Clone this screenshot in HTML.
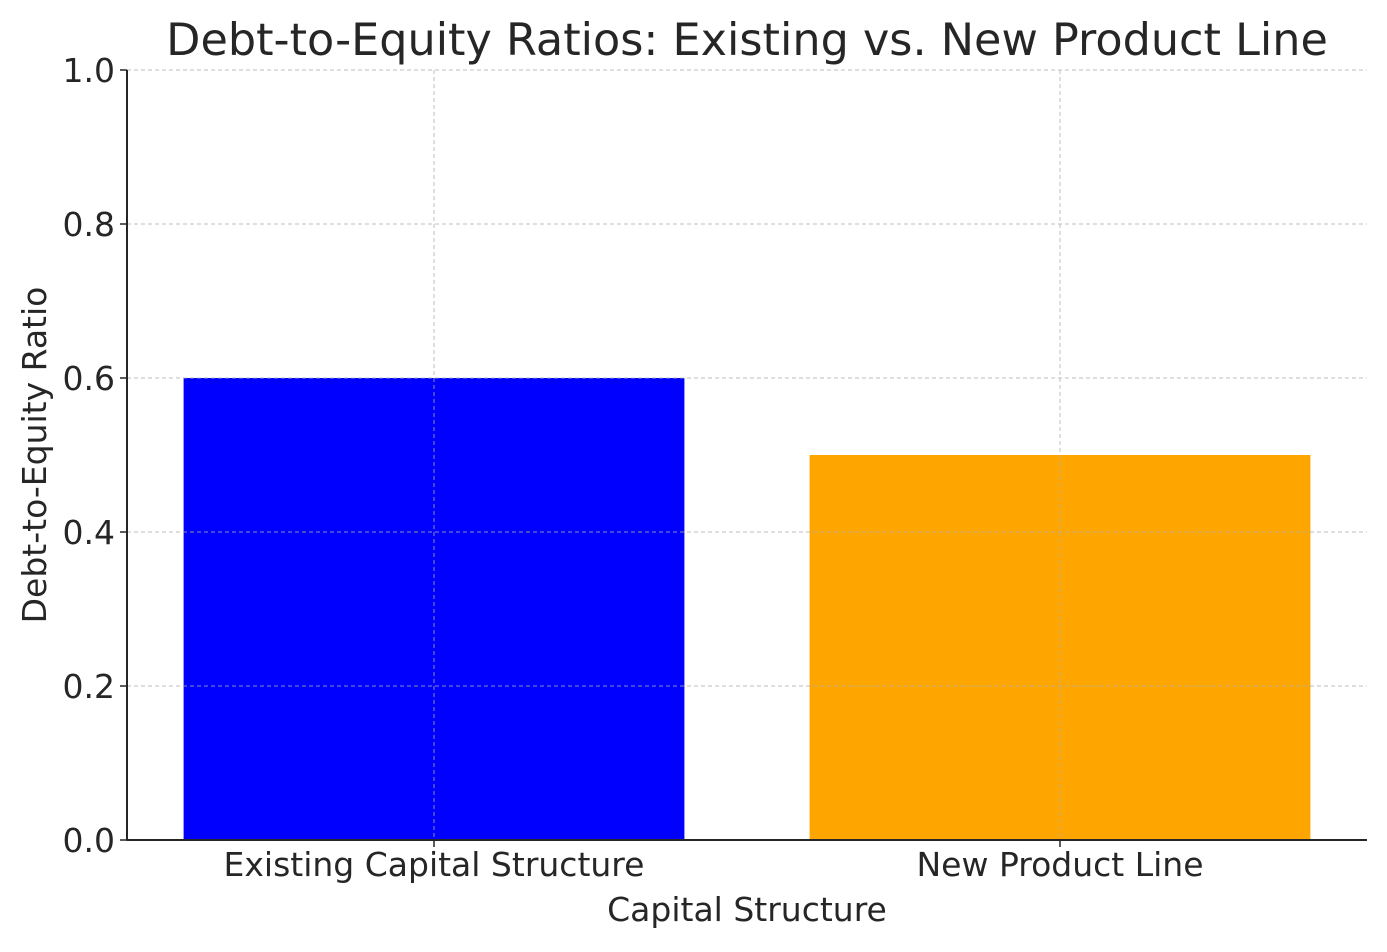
<!DOCTYPE html>
<html><head><meta charset="utf-8"><style>
body{margin:0;background:#fff}
svg text{font-family:"DejaVu Sans","Liberation Sans",sans-serif;fill:#262626}
</style></head><body>
<svg id="chart" width="1387" height="947"></svg>
<script>
const categories=["Existing Capital Structure","New Product Line"];
const values=[0.6,0.5];
const colors=["#0000ff","#ffa500"];
const yTicks=[0,0.2,0.4,0.6,0.8,1.0];
const yTickLabels=["0.0","0.2","0.4","0.6","0.8","1.0"];
const L=127,R=1367,T=70,B=840;
const x=i=>434+i*626;
const y=v=>B-(v/1.0)*(B-T);
const svg=document.getElementById('chart');
const NS='http://www.w3.org/2000/svg';
function mk(tag,a,txt){const e=document.createElementNS(NS,tag);for(const k in a)e.setAttribute(k,a[k]);if(txt!==undefined)e.textContent=txt;svg.appendChild(e);return e;}
categories.forEach((c,i)=>{
 const w=0.8*626;
 const r=mk('rect',{x:x(i)-w/2,y:y(values[i]),width:w,height:B-y(values[i]),fill:colors[i]});
 
 
});
yTicks.forEach((t,i)=>{
 const g=mk('line',{x1:L,x2:R,y1:y(t),y2:y(t),stroke:'#b0b0b0','stroke-width':1,'stroke-dasharray':'4,3',opacity:0.8});
 
 
 const tk=mk('line',{x1:L-7,x2:L,y1:y(t),y2:y(t),stroke:'#262626','stroke-width':1.5});
 
 
 const lb=mk('text',{x:L-12,y:y(t)+12,'text-anchor':'end','font-size':33},yTickLabels[i]);
 
 
});
categories.forEach((c,i)=>{
 const g=mk('line',{x1:x(i),x2:x(i),y1:T,y2:B,stroke:'#b0b0b0','stroke-width':1,'stroke-dasharray':'4,3',opacity:0.8});
 
 
 const tk=mk('line',{x1:x(i),x2:x(i),y1:B,y2:B+7,stroke:'#262626','stroke-width':1.5});
 
 
 const lb=mk('text',{x:x(i),y:B+36,'text-anchor':'middle','font-size':33},c);
 
 
});
const s1=mk('line',{x1:L,x2:L,y1:T,y2:B+0.75,stroke:'#262626','stroke-width':2});


const s2=mk('line',{x1:L,x2:R,y1:B,y2:B,stroke:'#262626','stroke-width':2});


const tt=mk('text',{x:747,y:55,'text-anchor':'middle','font-size':44.5,fill:'#333'},'Debt-to-Equity Ratios: Existing vs. New Product Line');


const xt=mk('text',{x:747,y:921,'text-anchor':'middle','font-size':33},'Capital Structure');


const yt=mk('text',{x:0,y:0,'text-anchor':'middle','font-size':33,transform:'translate(46,455) rotate(-90)'},'Debt-to-Equity Ratio');


</script>
</body></html>
